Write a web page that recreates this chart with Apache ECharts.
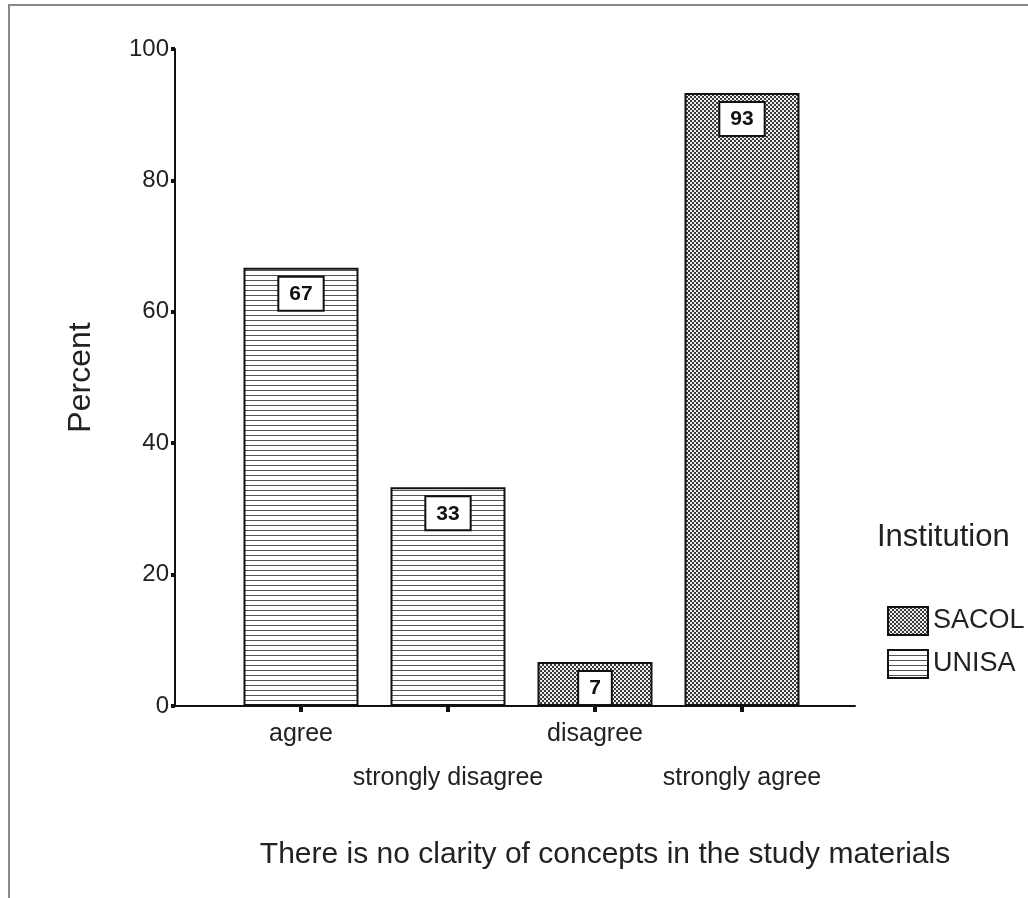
<!DOCTYPE html>
<html>
<head>
<meta charset="utf-8">
<script src="https://cdn.jsdelivr.net/npm/echarts@6/dist/echarts.min.js"></script>
<style>
html,body{margin:0;padding:0;background:#fff;}
#chart{width:1028px;height:898px;}
</style>
</head>
<body>
<div id="chart"></div>
<script>
const categories = ['agree', 'strongly disagree', 'disagree', 'strongly agree'];
const unisaValues = [66.7, 33.3, null, null];
const sacolValues = [null, null, 6.7, 93.3];
const seriesNames = ['SACOL', 'UNISA'];
const yTicks = [0, 20, 40, 60, 80, 100];
const xTitle = 'There is no clarity of concepts in the study materials';
const yTitle = 'Percent';
const legendTitle = 'Institution';

function hatchPattern() {
  const c = document.createElement('canvas');
  c.width = 8; c.height = 5;
  const g = c.getContext('2d');
  g.fillStyle = '#fff'; g.fillRect(0, 0, 8, 5);
  g.fillStyle = '#555'; g.fillRect(0, 0, 8, 1);
  return c;
}
function dotPattern() {
  const c = document.createElement('canvas');
  c.width = 4; c.height = 4;
  const g = c.getContext('2d');
  g.fillStyle = '#eee'; g.fillRect(0, 0, 4, 4);
  g.fillStyle = '#3a3a3a';
  g.fillRect(2, 0, 2, 2);
  g.fillRect(0, 2, 2, 2);
  return c;
}

const FONT = '"Liberation Sans", Arial, sans-serif';
const chart = echarts.init(document.getElementById('chart'), null, {renderer: 'canvas'});

const labelOpt = {
  show: true,
  position: 'insideTop',
  distance: 10,
  formatter: p => (p.value == null ? '' : String(Math.round(p.value))),
  fontFamily: FONT,
  fontWeight: 'bold',
  fontSize: 21,
  color: '#111',
  backgroundColor: '#fff',
  borderColor: '#111',
  borderWidth: 2,
  padding: [6, 10, 5, 10]
};

chart.setOption({
  animation: false,
  backgroundColor: '#fff',
  textStyle: {fontFamily: FONT},
  title: {
    text: xTitle,
    left: 600,
    top: 835,
    textAlign: 'center',
    textStyle: {fontFamily: FONT, fontSize: 30, fontWeight: 'normal', color: '#222'}
  },
  graphic: [
    {type: 'rect', shape: {x: 9, y: 5, width: 1040, height: 910}, style: {fill: 'none', stroke: '#888', lineWidth: 2}, silent: true},
    {type: 'text', left: 877, top: 522, style: {text: legendTitle, fontFamily: FONT, fontSize: 31, fill: '#222'}}
  ],
  legend: {
    data: seriesNames,
    orient: 'vertical',
    left: 882,
    top: 601,
    itemWidth: 40,
    itemHeight: 28,
    itemGap: 13,
    icon: 'rect',
    textStyle: {fontFamily: FONT, fontSize: 27, color: '#222'}
  },
  grid: [
    {left: 227.5, right: 212.5, top: 49, bottom: 192, containLabel: false},
    {left: 175, right: 173, top: 49, bottom: 192, containLabel: false}
  ],
  xAxis: [
    {
      type: 'category',
      gridIndex: 0,
      data: categories,
      axisLine: {show: false},
      axisTick: {show: true, alignWithLabel: true, length: 6, lineStyle: {color: '#111', width: 4}},
      axisLabel: {
        fontFamily: FONT, fontSize: 25, color: '#222', margin: 6, lineHeight: 44,
        interval: 0,
        formatter: (v, i) => (i % 2 === 1 ? '\n' + v : v)
      }
    },
    {
      type: 'value', gridIndex: 1, min: 0, max: 1,
      axisLine: {show: true, onZero: false, lineStyle: {color: '#111', width: 2}},
      axisTick: {show: false}, axisLabel: {show: false}, splitLine: {show: false}
    }
  ],
  yAxis: [
    {
      type: 'value',
      gridIndex: 0,
      min: yTicks[0],
      max: yTicks[yTicks.length - 1],
      interval: 20,
      offset: 52.5,
      name: yTitle,
      nameLocation: 'middle',
      nameGap: 78,
      nameTextStyle: {fontFamily: FONT, fontSize: 32, color: '#222'},
      axisLine: {show: true, lineStyle: {color: '#111', width: 2}},
      axisTick: {show: true, length: 4, lineStyle: {color: '#111', width: 4}},
      axisLabel: {fontFamily: FONT, fontSize: 24, color: '#222', margin: 6},
      splitLine: {show: false}
    },
    {
      type: 'value', gridIndex: 1, min: 0, max: 1, show: false
    }
  ],
  series: [
    {
      name: 'SACOL',
      type: 'bar',
      stack: 'total',
      xAxisIndex: 0, yAxisIndex: 0,
      data: sacolValues,
      barWidth: 115,
      itemStyle: {color: {image: dotPattern(), repeat: 'repeat'}, borderColor: '#111', borderWidth: 2},
      label: labelOpt
    },
    {
      name: 'UNISA',
      type: 'bar',
      stack: 'total',
      xAxisIndex: 0, yAxisIndex: 0,
      data: unisaValues,
      barWidth: 115,
      itemStyle: {color: {image: hatchPattern(), repeat: 'repeat'}, borderColor: '#111', borderWidth: 2},
      label: labelOpt
    }
  ]
});
</script>
</body>
</html>
